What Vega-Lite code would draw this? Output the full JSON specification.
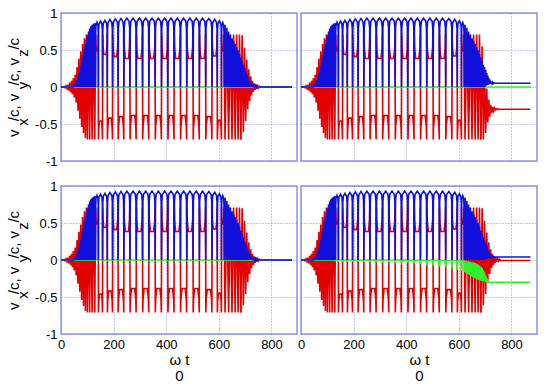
{
"$schema": "https://vega.github.io/schema/vega-lite/v6.json",
"background": "white",
"padding": {"left": 5, "top": 6, "right": 10, "bottom": 2},
"config": {
 "view": {"stroke": "#9090ea", "strokeWidth": 1.5},
 "axis": {"grid": true, "gridColor": "#8a8ae6", "gridDash": [1, 2], "gridWidth": 1, "domain": false, "ticks": false,
  "labelFont": "Liberation Sans", "labelFontSize": 13, "labelColor": "black", "labelPadding": 4,
  "titleFont": "Liberation Sans", "titleFontSize": 15, "titleFontWeight": "normal", "titleColor": "black"},
 "line": {"strokeWidth": 1.6}
},
"datasets": {
 "rc": [{"t":0,"v":0},{"t":8,"v":0},{"t":12,"v":0.007},{"t":15.5,"v":-0.01},{"t":19,"v":0.014},{"t":22.5,"v":-0.019},{"t":26,"v":0.03},{"t":29.5,"v":-0.046},{"t":33,"v":0.058},{"t":36.5,"v":-0.07},{"t":40,"v":0.083},{"t":43.5,"v":-0.097},{"t":47,"v":0.12},{"t":50.5,"v":-0.14},{"t":54,"v":0.17},{"t":57.5,"v":-0.21},{"t":61,"v":0.27},{"t":64.5,"v":-0.32},{"t":68,"v":0.38},{"t":71.5,"v":-0.43},{"t":75,"v":0.48},{"t":78.5,"v":-0.54},{"t":82,"v":0.58},{"t":85.5,"v":-0.62},{"t":89,"v":0.66},{"t":92.7,"v":-0.69},{"t":96.5,"v":0.71},{"t":100.2,"v":-0.71},{"t":104.4,"v":0.71},{"t":108.8,"v":-0.71},{"t":113.4,"v":0.71},{"t":118.2,"v":-0.71},{"t":123.2,"v":0.71},{"t":128.3,"v":-0.71},
 {"t":131.7,"v":0.71},{"t":132.3,"v":0.58},{"t":134.1,"v":0.49},{"t":139.4,"v":0.49},{"t":141.2,"v":0.58},{"t":141.8,"v":0.71},
 {"t":142.3,"v":-0.71},{"t":143.3,"v":-0.57},{"t":146,"v":-0.46},{"t":154,"v":-0.46},{"t":156.7,"v":-0.57},{"t":157.7,"v":-0.71},
 {"t":158.4,"v":0.71},{"t":159.4,"v":0.56},{"t":162.5,"v":0.44},{"t":171.5,"v":0.44},{"t":174.6,"v":0.56},{"t":175.6,"v":0.71},
 {"t":176.4,"v":-0.71},{"t":177.6,"v":-0.55},{"t":181,"v":-0.42},{"t":191,"v":-0.42},{"t":194.4,"v":-0.55},{"t":195.6,"v":-0.71},
 {"t":196.4,"v":0.71},{"t":197.7,"v":0.54},{"t":201.3,"v":0.41},{"t":211.8,"v":0.41},{"t":215.3,"v":0.54},{"t":216.6,"v":0.71},
 {"t":217.4,"v":-0.71},{"t":218.8,"v":-0.53},{"t":222.5,"v":-0.4},{"t":233.5,"v":-0.4},{"t":237.2,"v":-0.53},{"t":238.6,"v":-0.71},
 {"t":239.5,"v":0.71},{"t":240.8,"v":0.525},{"t":244.8,"v":0.385},{"t":256.3,"v":0.385},{"t":260.2,"v":0.525},{"t":261.5,"v":0.71},
 {"t":262.5,"v":-0.71},{"t":263.9,"v":-0.525},{"t":268,"v":-0.385},{"t":280,"v":-0.385},{"t":284.1,"v":-0.525},{"t":285.5,"v":-0.71},
 {"t":286.5,"v":0.71},{"t":287.9,"v":0.525},{"t":292,"v":0.385},{"t":304,"v":0.385},{"t":308.1,"v":0.525},{"t":309.5,"v":0.71},
 {"t":310.5,"v":-0.71},{"t":311.9,"v":-0.525},{"t":316,"v":-0.385},{"t":328,"v":-0.385},{"t":332.1,"v":-0.525},{"t":333.5,"v":-0.71},
 {"t":334.5,"v":0.71},{"t":335.9,"v":0.525},{"t":340,"v":0.385},{"t":352,"v":0.385},{"t":356.1,"v":0.525},{"t":357.5,"v":0.71},
 {"t":358.5,"v":-0.71},{"t":359.9,"v":-0.525},{"t":364,"v":-0.385},{"t":376,"v":-0.385},{"t":380.1,"v":-0.525},{"t":381.5,"v":-0.71},
 {"t":382.5,"v":0.71},{"t":383.9,"v":0.525},{"t":388,"v":0.385},{"t":400,"v":0.385},{"t":404.1,"v":0.525},{"t":405.5,"v":0.71},
 {"t":406.5,"v":-0.71},{"t":407.9,"v":-0.525},{"t":412,"v":-0.385},{"t":424,"v":-0.385},{"t":428.1,"v":-0.525},{"t":429.5,"v":-0.71},
 {"t":430.5,"v":0.71},{"t":431.9,"v":0.525},{"t":436,"v":0.385},{"t":448,"v":0.385},{"t":452.1,"v":0.525},{"t":453.5,"v":0.71},
 {"t":454.5,"v":-0.71},{"t":455.9,"v":-0.525},{"t":460,"v":-0.385},{"t":472,"v":-0.385},{"t":476.1,"v":-0.525},{"t":477.5,"v":-0.71},
 {"t":478.5,"v":0.71},{"t":479.9,"v":0.525},{"t":484,"v":0.385},{"t":496,"v":0.385},{"t":500.1,"v":0.525},{"t":501.5,"v":0.71},
 {"t":502.5,"v":-0.71},{"t":503.9,"v":-0.525},{"t":508,"v":-0.385},{"t":520,"v":-0.385},{"t":524.1,"v":-0.525},{"t":525.5,"v":-0.71},
 {"t":526.5,"v":0.71},{"t":527.9,"v":0.525},{"t":532,"v":0.385},{"t":544,"v":0.385},{"t":548.1,"v":0.525},{"t":549.5,"v":0.71},
 {"t":550.5,"v":-0.71},{"t":551.9,"v":-0.53},{"t":556,"v":-0.4},{"t":568,"v":-0.4},{"t":572.1,"v":-0.53},{"t":573.5,"v":-0.71},
 {"t":574.4,"v":0.71},{"t":575.6,"v":0.54},{"t":579,"v":0.42},{"t":589,"v":0.42},{"t":592.4,"v":0.54},{"t":593.6,"v":0.71},
 {"t":594.3,"v":-0.71},{"t":595.3,"v":-0.56},{"t":598,"v":-0.45},{"t":606,"v":-0.45},{"t":608.7,"v":-0.56},{"t":609.7,"v":-0.71},
 {"t":610.2,"v":0.71},{"t":610.8,"v":0.59},{"t":612.5,"v":0.49},{"t":617.5,"v":0.49},{"t":619.2,"v":0.59},{"t":619.8,"v":0.71},
 {"t":623.5,"v":-0.71},{"t":630.4,"v":0.71},{"t":637.1,"v":-0.71},{"t":643.6,"v":0.71},{"t":649.9,"v":-0.71},{"t":656,"v":0.71},{"t":661.9,"v":-0.71},{"t":667.6,"v":0.71},{"t":673.1,"v":-0.71},{"t":678.4,"v":0.71},{"t":683.5,"v":-0.71}],
 "bc": [{"t":0,"v":0},{"t":45.2,"v":0},{"t":47,"v":0.02},{"t":48.7,"v":0},{"t":50.5,"v":0.03},{"t":52.2,"v":0},{"t":54,"v":0.042},{"t":55.7,"v":0},{"t":57.5,"v":0.065},{"t":59.2,"v":0},{"t":61,"v":0.095},{"t":62.7,"v":0},{"t":64.5,"v":0.135},{"t":66.2,"v":0},{"t":68,"v":0.175},{"t":69.7,"v":0},{"t":71.5,"v":0.23},{"t":73.2,"v":0},{"t":75,"v":0.28},{"t":76.7,"v":0},{"t":78.5,"v":0.33},{"t":80.2,"v":0},{"t":82,"v":0.39},{"t":83.7,"v":0},{"t":85.5,"v":0.45},{"t":87.2,"v":0},{"t":89,"v":0.52},{"t":90.8,"v":0},{"t":92.7,"v":0.585},{"t":94.6,"v":0},{"t":96.5,"v":0.64},{"t":98.4,"v":0},{"t":100.2,"v":0.7},{"t":102.3,"v":0},{"t":104.4,"v":0.75},{"t":106.6,"v":0},{"t":108.8,"v":0.79},{"t":111.1,"v":0},{"t":113.4,"v":0.82},{"t":115.8,"v":0},{"t":118.2,"v":0.84},{"t":120.7,"v":0},{"t":123.2,"v":0.855},{"t":125.75,"v":0},{"t":128.3,"v":0.865},{"t":131.5,"v":0},
 {"t":132,"v":0.75},{"t":133.1,"v":0.836},{"t":136.75,"v":0.875},{"t":140.4,"v":0.836},{"t":141.5,"v":0.75},{"t":142,"v":0},
 {"t":142.8,"v":0.765},{"t":144.4,"v":0.85},{"t":150,"v":0.89},{"t":155.6,"v":0.85},{"t":157.2,"v":0.765},{"t":158,"v":0},
 {"t":158.9,"v":0.774},{"t":160.7,"v":0.86},{"t":167,"v":0.9},{"t":173.3,"v":0.86},{"t":175.1,"v":0.774},{"t":176,"v":0},
 {"t":177,"v":0.784},{"t":179,"v":0.871},{"t":186,"v":0.912},{"t":193,"v":0.871},{"t":195,"v":0.784},{"t":196,"v":0},
 {"t":197.1,"v":0.791},{"t":199.2,"v":0.879},{"t":206.5,"v":0.92},{"t":213.9,"v":0.879},{"t":216,"v":0.791},{"t":217,"v":0},
 {"t":218.1,"v":0.796},{"t":220.3,"v":0.883},{"t":228,"v":0.925},{"t":235.7,"v":0.883},{"t":237.9,"v":0.796},{"t":239,"v":0},
 {"t":240.2,"v":0.8},{"t":242.5,"v":0.888},{"t":250.5,"v":0.93},{"t":258.6,"v":0.888},{"t":260.9,"v":0.8},{"t":262,"v":0},
 {"t":263.2,"v":0.8},{"t":265.6,"v":0.888},{"t":274,"v":0.93},{"t":282.4,"v":0.888},{"t":284.8,"v":0.8},{"t":286,"v":0},
 {"t":287.2,"v":0.8},{"t":289.6,"v":0.888},{"t":298,"v":0.93},{"t":306.4,"v":0.888},{"t":308.8,"v":0.8},{"t":310,"v":0},
 {"t":311.2,"v":0.8},{"t":313.6,"v":0.888},{"t":322,"v":0.93},{"t":330.4,"v":0.888},{"t":332.8,"v":0.8},{"t":334,"v":0},
 {"t":335.2,"v":0.8},{"t":337.6,"v":0.888},{"t":346,"v":0.93},{"t":354.4,"v":0.888},{"t":356.8,"v":0.8},{"t":358,"v":0},
 {"t":359.2,"v":0.8},{"t":361.6,"v":0.888},{"t":370,"v":0.93},{"t":378.4,"v":0.888},{"t":380.8,"v":0.8},{"t":382,"v":0},
 {"t":383.2,"v":0.8},{"t":385.6,"v":0.888},{"t":394,"v":0.93},{"t":402.4,"v":0.888},{"t":404.8,"v":0.8},{"t":406,"v":0},
 {"t":407.2,"v":0.8},{"t":409.6,"v":0.888},{"t":418,"v":0.93},{"t":426.4,"v":0.888},{"t":428.8,"v":0.8},{"t":430,"v":0},
 {"t":431.2,"v":0.8},{"t":433.6,"v":0.888},{"t":442,"v":0.93},{"t":450.4,"v":0.888},{"t":452.8,"v":0.8},{"t":454,"v":0},
 {"t":455.2,"v":0.8},{"t":457.6,"v":0.888},{"t":466,"v":0.93},{"t":474.4,"v":0.888},{"t":476.8,"v":0.8},{"t":478,"v":0},
 {"t":479.2,"v":0.8},{"t":481.6,"v":0.888},{"t":490,"v":0.93},{"t":498.4,"v":0.888},{"t":500.8,"v":0.8},{"t":502,"v":0},
 {"t":503.2,"v":0.8},{"t":505.6,"v":0.888},{"t":514,"v":0.93},{"t":522.4,"v":0.888},{"t":524.8,"v":0.8},{"t":526,"v":0},
 {"t":527.2,"v":0.8},{"t":529.6,"v":0.888},{"t":538,"v":0.93},{"t":546.4,"v":0.888},{"t":548.8,"v":0.8},{"t":550,"v":0},
 {"t":551.2,"v":0.796},{"t":553.6,"v":0.883},{"t":562,"v":0.925},{"t":570.4,"v":0.883},{"t":572.8,"v":0.796},{"t":574,"v":0},
 {"t":575,"v":0.787},{"t":577,"v":0.874},{"t":584,"v":0.915},{"t":591,"v":0.874},{"t":593,"v":0.787},{"t":594,"v":0},
 {"t":594.8,"v":0.77},{"t":596.4,"v":0.855},{"t":602,"v":0.895},{"t":607.6,"v":0.855},{"t":609.2,"v":0.77},{"t":610,"v":0},
 {"t":610.5,"v":0.748},{"t":611.5,"v":0.83},{"t":615,"v":0.87},{"t":618.5,"v":0.83},{"t":619.5,"v":0.748},{"t":620,"v":0},
 {"t":623.5,"v":0.84},{"t":627,"v":0},{"t":630.4,"v":0.8},{"t":633.8,"v":0},{"t":637.1,"v":0.75},{"t":640.4,"v":0},{"t":643.6,"v":0.705},{"t":646.8,"v":0},{"t":649.9,"v":0.66},{"t":653,"v":0},{"t":656,"v":0.625},{"t":659,"v":0},{"t":661.9,"v":0.585},{"t":664.8,"v":0},{"t":667.6,"v":0.54},{"t":670.4,"v":0},{"t":673.1,"v":0.495},{"t":675.8,"v":0},{"t":678.4,"v":0.445},{"t":681,"v":0},{"t":683.5,"v":0.4},{"t":686,"v":0},{"t":688.4,"v":0.35},{"t":690.8,"v":0},{"t":693.1,"v":0.3},{"t":695.4,"v":0}],
 "rL": [{"t":683.5,"v":-0.71},{"t":688.4,"v":0.7},{"t":693.1,"v":-0.61},{"t":697.6,"v":0.53},{"t":701.9,"v":-0.46},{"t":706,"v":0.37},{"t":709.9,"v":-0.3},{"t":713.65,"v":0.24},{"t":717.3,"v":-0.19},{"t":720.85,"v":0.145},{"t":724.3,"v":-0.11},{"t":727.7,"v":0.085},{"t":731.1,"v":-0.065},{"t":734.5,"v":0.05},{"t":737.9,"v":-0.04},{"t":741.3,"v":0.032},{"t":744.7,"v":-0.025},{"t":748.1,"v":0.018},{"t":751.5,"v":-0.013},{"t":754.9,"v":0.008},{"t":758.3,"v":-0.005},{"t":762,"v":0},{"t":878,"v":0}],
 "rA": [{"t":683.5,"v":-0.71},{"t":688.4,"v":0.55},{"t":693.1,"v":-0.71},{"t":697.6,"v":0.25},{"t":701.9,"v":-0.62},{"t":706,"v":-0.02},{"t":709.9,"v":-0.48},{"t":713.65,"v":-0.17},{"t":717.3,"v":-0.4},{"t":720.85,"v":-0.24},{"t":724.3,"v":-0.35},{"t":727.7,"v":-0.27},{"t":731.1,"v":-0.325},{"t":734.5,"v":-0.285},{"t":737.9,"v":-0.312},{"t":741.3,"v":-0.293},{"t":744.7,"v":-0.305},{"t":748.1,"v":-0.297},{"t":751.5,"v":-0.302},{"t":755,"v":-0.3},{"t":872,"v":-0.3}],
 "rB": [{"t":683.5,"v":-0.71},{"t":688.4,"v":0.7},{"t":693.1,"v":-0.61},{"t":697.6,"v":0.53},{"t":701.9,"v":-0.46},{"t":706,"v":0.37},{"t":709.9,"v":-0.3},{"t":713.65,"v":0.24},{"t":717.3,"v":-0.19},{"t":720.85,"v":0.145},{"t":724.3,"v":-0.11},{"t":727.7,"v":0.085},{"t":731.1,"v":-0.065},{"t":734.5,"v":0.05},{"t":737.9,"v":-0.04},{"t":741.3,"v":0.032},{"t":744.7,"v":-0.025},{"t":748.1,"v":0.018},{"t":751.5,"v":-0.013},{"t":754.9,"v":0.008},{"t":758.3,"v":-0.005},{"t":762,"v":-0.006},{"t":872,"v":-0.006}],
 "bL": [{"t":695.4,"v":0},{"t":697.6,"v":0.255},{"t":699.8,"v":0},{"t":701.9,"v":0.21},{"t":704,"v":0},{"t":706,"v":0.165},{"t":708,"v":0},{"t":709.9,"v":0.13},{"t":711.8,"v":0},{"t":713.65,"v":0.1},{"t":715.5,"v":0},{"t":717.3,"v":0.08},{"t":719.1,"v":0},{"t":720.85,"v":0.06},{"t":722.6,"v":0},{"t":724.3,"v":0.048},{"t":726,"v":0},{"t":727.7,"v":0.038},{"t":729.4,"v":0},{"t":731.1,"v":0.03},{"t":732.8,"v":0},{"t":734.5,"v":0.024},{"t":736.2,"v":0},{"t":737.9,"v":0.018},{"t":739.6,"v":0},{"t":741.3,"v":0.014},{"t":743,"v":0},{"t":744.7,"v":0.01},{"t":746.4,"v":0},{"t":878,"v":0}],
 "bA": [{"t":695.4,"v":0},{"t":697.6,"v":0.27},{"t":699.8,"v":0.008},{"t":701.9,"v":0.23},{"t":704,"v":0.016},{"t":706,"v":0.19},{"t":708,"v":0.024},{"t":709.9,"v":0.155},{"t":711.8,"v":0.031},{"t":713.65,"v":0.125},{"t":715.5,"v":0.037},{"t":717.3,"v":0.1},{"t":719.1,"v":0.041},{"t":720.85,"v":0.082},{"t":722.6,"v":0.044},{"t":724.3,"v":0.07},{"t":726,"v":0.046},{"t":727.7,"v":0.062},{"t":729.4,"v":0.048},{"t":731.1,"v":0.057},{"t":732.8,"v":0.049},{"t":734.5,"v":0.054},{"t":736.2,"v":0.05},{"t":872,"v":0.05}],
 "bB": [{"t":695.4,"v":0},{"t":697.6,"v":0.265},{"t":699.8,"v":0.007},{"t":701.9,"v":0.22},{"t":704,"v":0.013},{"t":706,"v":0.18},{"t":708,"v":0.019},{"t":709.9,"v":0.145},{"t":711.8,"v":0.025},{"t":713.65,"v":0.115},{"t":715.5,"v":0.03},{"t":717.3,"v":0.09},{"t":719.1,"v":0.033},{"t":720.85,"v":0.072},{"t":722.6,"v":0.035},{"t":724.3,"v":0.06},{"t":726,"v":0.037},{"t":727.7,"v":0.052},{"t":729.4,"v":0.038},{"t":731.1,"v":0.047},{"t":732.8,"v":0.039},{"t":734.5,"v":0.044},{"t":736.2,"v":0.04},{"t":872,"v":0.04}],
 "g0": [{"t":0,"v":0},{"t":875,"v":0}],
 "gB": [{"t":0,"v":0},{"t":125,"v":0},{"t":131.5,"v":-0.006},
 {"t":132.5,"v":0},{"t":141,"v":0},{"t":142,"v":-0.007},
 {"t":143.6,"v":0},{"t":156.4,"v":0},{"t":158,"v":-0.008},
 {"t":159.8,"v":0},{"t":174.2,"v":0},{"t":176,"v":-0.009},
 {"t":178,"v":0},{"t":194,"v":0},{"t":196,"v":-0.01},
 {"t":198.1,"v":0},{"t":214.9,"v":0},{"t":217,"v":-0.011},
 {"t":219.2,"v":0},{"t":236.8,"v":0},{"t":239,"v":-0.013},
 {"t":241.3,"v":0},{"t":259.7,"v":0},{"t":262,"v":-0.015},
 {"t":264.4,"v":-0.001},{"t":283.6,"v":-0.001},{"t":286,"v":-0.017},
 {"t":288.4,"v":-0.001},{"t":307.6,"v":-0.001},{"t":310,"v":-0.019},
 {"t":312.4,"v":-0.001},{"t":331.6,"v":-0.001},{"t":334,"v":-0.022},
 {"t":336.4,"v":-0.001},{"t":355.6,"v":-0.001},{"t":358,"v":-0.026},
 {"t":360.4,"v":-0.002},{"t":379.6,"v":-0.002},{"t":382,"v":-0.032},
 {"t":384.4,"v":-0.002},{"t":403.6,"v":-0.002},{"t":406,"v":-0.039},
 {"t":408.4,"v":-0.002},{"t":427.6,"v":-0.002},{"t":430,"v":-0.047},
 {"t":432.4,"v":-0.003},{"t":451.6,"v":-0.003},{"t":454,"v":-0.056},
 {"t":456.4,"v":-0.003},{"t":475.6,"v":-0.003},{"t":478,"v":-0.066},
 {"t":480.4,"v":-0.004},{"t":499.6,"v":-0.004},{"t":502,"v":-0.077},
 {"t":504.4,"v":-0.004},{"t":523.6,"v":-0.004},{"t":526,"v":-0.09},
 {"t":528.4,"v":-0.005},{"t":547.6,"v":-0.005},{"t":550,"v":-0.102},
 {"t":552.4,"v":-0.006},{"t":571.6,"v":-0.006},{"t":574,"v":-0.117},
 {"t":576,"v":-0.007},{"t":592,"v":-0.007},{"t":594,"v":-0.13},
 {"t":595.6,"v":-0.008},{"t":608.4,"v":-0.008},{"t":610,"v":-0.145},
 {"t":611,"v":-0.01},{"t":619,"v":-0.01},{"t":620,"v":-0.16},
 {"t":623.5,"v":-0.012},{"t":627,"v":-0.175},{"t":630.4,"v":-0.015},{"t":633.8,"v":-0.19},{"t":637.1,"v":-0.02},{"t":640.4,"v":-0.205},{"t":643.6,"v":-0.025},{"t":646.8,"v":-0.218},{"t":649.9,"v":-0.03},{"t":653,"v":-0.23},{"t":656,"v":-0.035},{"t":659,"v":-0.242},{"t":661.9,"v":-0.04},{"t":664.8,"v":-0.252},{"t":667.6,"v":-0.05},{"t":670.4,"v":-0.262},{"t":673.1,"v":-0.06},{"t":675.8,"v":-0.27},{"t":678.4,"v":-0.075},{"t":681,"v":-0.277},{"t":683.5,"v":-0.09},{"t":686,"v":-0.282},{"t":688.4,"v":-0.11},{"t":690.8,"v":-0.286},{"t":693.1,"v":-0.14},{"t":695.4,"v":-0.29},{"t":697.6,"v":-0.17},{"t":699.8,"v":-0.293},{"t":701.9,"v":-0.21},{"t":704,"v":-0.295},{"t":706,"v":-0.245},{"t":708,"v":-0.297},{"t":709.9,"v":-0.27},{"t":711.8,"v":-0.299},{"t":713.65,"v":-0.288},{"t":715.5,"v":-0.3},{"t":872,"v":-0.3}]
},
"columns": 2,
"spacing": {"row": 25, "column": 4},
"bounds": "flush",
"concat": [
  {"width": 236, "height": 148,
   "encoding": {
    "x": {"field": "t", "type": "quantitative", "scale": {"domain": [0, 897], "nice": false}, "axis": {"values": [0,200,400,600,800], "labels": false, "title": null}},
    "y": {"field": "v", "type": "quantitative", "scale": {"domain": [-1, 1], "nice": false}, "axis": {"values": [-1,-0.5,0,0.5,1], "labelExpr": "'' + datum.value", "title": ["v\u00a0\u00a0/c, v\u00a0\u00a0/c, v\u00a0\u00a0/c", "\u00a0\u00a0x\u00a0\u00a0\u00a0\u00a0\u00a0\u00a0\u00a0y\u00a0\u00a0\u00a0\u00a0\u00a0\u00a0z\u00a0\u00a0\u00a0"], "titleLineHeight": 9}}
   },
   "layer": [
    {"data": {"name": "rc"}, "mark": {"type": "line", "color": "#e20000"}, "encoding": {}},
    {"data": {"name": "rL"}, "mark": {"type": "line", "color": "#e20000"}, "encoding": {}},
    {"data": {"name": "g0"}, "mark": {"type": "line", "color": "#30f030"}, "encoding": {}},
    {"data": {"name": "bc"}, "mark": {"type": "line", "color": "#1010dc"}, "encoding": {}},
    {"data": {"name": "bL"}, "mark": {"type": "line", "color": "#1010dc"}, "encoding": {}}
   ]},
  {"width": 236, "height": 148,
   "encoding": {
    "x": {"field": "t", "type": "quantitative", "scale": {"domain": [0, 897], "nice": false}, "axis": {"values": [0,200,400,600,800], "labels": false, "title": null}},
    "y": {"field": "v", "type": "quantitative", "scale": {"domain": [-1, 1], "nice": false}, "axis": {"values": [-1,-0.5,0,0.5,1], "labels": false, "title": null}}
   },
   "layer": [
    {"data": {"name": "rc"}, "mark": {"type": "line", "color": "#e20000"}, "encoding": {}},
    {"data": {"name": "rA"}, "mark": {"type": "line", "color": "#e20000"}, "encoding": {}},
    {"data": {"name": "g0"}, "mark": {"type": "line", "color": "#30f030"}, "encoding": {}},
    {"data": {"name": "bc"}, "mark": {"type": "line", "color": "#1010dc"}, "encoding": {}},
    {"data": {"name": "bA"}, "mark": {"type": "line", "color": "#1010dc"}, "encoding": {}}
   ]},
  {"width": 236, "height": 148,
   "encoding": {
    "x": {"field": "t", "type": "quantitative", "scale": {"domain": [0, 897], "nice": false}, "axis": {"values": [0,200,400,600,800], "labelExpr": "'' + datum.value", "labelFlush": false, "title": ["ω\u00a0t", "\u00a00"], "titleLineHeight": 16, "titlePadding": 1}},
    "y": {"field": "v", "type": "quantitative", "scale": {"domain": [-1, 1], "nice": false}, "axis": {"values": [-1,-0.5,0,0.5,1], "labelExpr": "'' + datum.value", "title": ["v\u00a0\u00a0/c, v\u00a0\u00a0/c, v\u00a0\u00a0/c", "\u00a0\u00a0x\u00a0\u00a0\u00a0\u00a0\u00a0\u00a0\u00a0y\u00a0\u00a0\u00a0\u00a0\u00a0\u00a0z\u00a0\u00a0\u00a0"], "titleLineHeight": 9}}
   },
   "layer": [
    {"data": {"name": "rc"}, "mark": {"type": "line", "color": "#e20000"}, "encoding": {}},
    {"data": {"name": "rL"}, "mark": {"type": "line", "color": "#e20000"}, "encoding": {}},
    {"data": {"name": "g0"}, "mark": {"type": "line", "color": "#30f030"}, "encoding": {}},
    {"data": {"name": "bc"}, "mark": {"type": "line", "color": "#1010dc"}, "encoding": {}},
    {"data": {"name": "bL"}, "mark": {"type": "line", "color": "#1010dc"}, "encoding": {}}
   ]},
  {"width": 236, "height": 148,
   "encoding": {
    "x": {"field": "t", "type": "quantitative", "scale": {"domain": [0, 897], "nice": false}, "axis": {"values": [0,200,400,600,800], "labelExpr": "'' + datum.value", "labelFlush": false, "title": ["ω\u00a0t", "\u00a00"], "titleLineHeight": 16, "titlePadding": 1}},
    "y": {"field": "v", "type": "quantitative", "scale": {"domain": [-1, 1], "nice": false}, "axis": {"values": [-1,-0.5,0,0.5,1], "labels": false, "title": null}}
   },
   "layer": [
    {"data": {"name": "rc"}, "mark": {"type": "line", "color": "#e20000"}, "encoding": {}},
    {"data": {"name": "rB"}, "mark": {"type": "line", "color": "#e20000"}, "encoding": {}},
    {"data": {"name": "gB"}, "mark": {"type": "line", "color": "#30f030"}, "encoding": {}},
    {"data": {"name": "bc"}, "mark": {"type": "line", "color": "#1010dc"}, "encoding": {}},
    {"data": {"name": "bB"}, "mark": {"type": "line", "color": "#1010dc"}, "encoding": {}}
   ]}
]
}
